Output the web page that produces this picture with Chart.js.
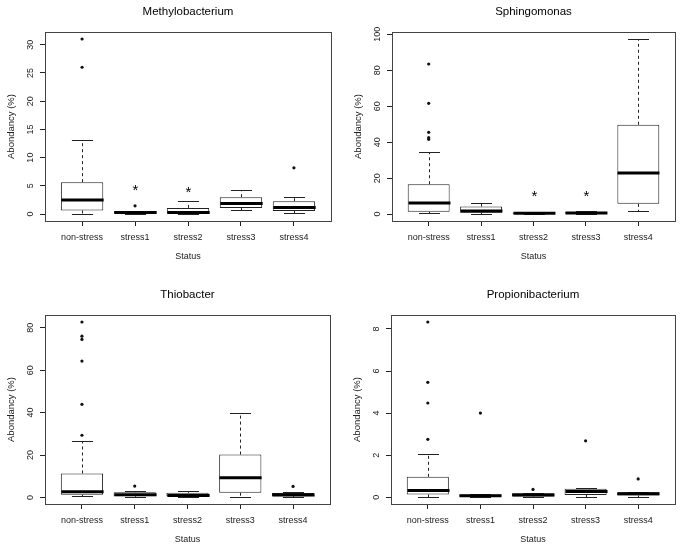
<!DOCTYPE html>
<html>
<head>
<meta charset="utf-8">
<script src="https://cdn.jsdelivr.net/npm/chart.js@4.4.1/dist/chart.umd.min.js"></script>
<style>
  html, body { margin: 0; padding: 0; background: #fff; }
  #wrap { position: relative; width: 683px; height: 549px; }
  canvas { position: absolute; }
</style>
</head>
<body>
<div id="wrap">
  <canvas id="c1" width="342" height="275" style="left:0;top:0"></canvas>
  <canvas id="c2" width="341" height="275" style="left:342px;top:0"></canvas>
  <canvas id="c3" width="342" height="266" style="left:0;top:283px"></canvas>
  <canvas id="c4" width="341" height="266" style="left:342px;top:283px"></canvas>
</div>
<script>
const categories = ['non-stress', 'stress1', 'stress2', 'stress3', 'stress4'];

// Methylobacterium
const methyloLow = [0.1, 0.02, 0.05, 0.7, 0.17];
const methyloQ1 = [0.64, 0.1, 0.1, 1.1, 0.53];
const methyloMedian = [2.52, 0.3, 0.28, 1.87, 1.17];
const methyloQ3 = [5.65, 0.5, 1.1, 3.0, 2.29];
const methyloHigh = [13.05, 0.6, 2.35, 4.23, 3.0];
const methyloOutliers = [[31.0, 26.0], [1.46], [], [], [8.2]];
const methyloStars = [null, 4.8, 4.6, null, null];
const methyloTicks = [0, 5, 10, 15, 20, 25, 30];

// Sphingomonas
const sphingoLow = [0.55, 0.3, 0.05, 0.1, 1.85];
const sphingoQ1 = [1.3, 0.74, 0.2, 0.3, 5.7];
const sphingoMedian = [6.1, 1.66, 0.5, 0.6, 22.9];
const sphingoQ3 = [16.6, 4.25, 0.9, 1.0, 49.7];
const sphingoHigh = [34.4, 6.1, 1.2, 1.6, 97.4];
const sphingoOutliers = [[83.5, 61.6, 45.5, 42.5, 41.6], [], [], [], []];
const sphingoStars = [null, null, 12.2, 12.2, null];
const sphingoTicks = [0, 20, 40, 60, 80, 100];

// Thiobacter
const thioLow = [0.5, 0.3, 0.2, 0.3, 0.2];
const thioQ1 = [1.26, 0.6, 0.5, 2.2, 0.5];
const thioMedian = [2.7, 1.26, 0.95, 9.3, 1.1];
const thioQ3 = [11.3, 2.4, 2.2, 20.2, 2.05];
const thioHigh = [26.6, 2.8, 3.1, 39.8, 2.4];
const thioOutliers = [[82.7, 76.0, 74.5, 64.3, 43.9, 29.3], [5.35], [], [], [5.2]];
const thioStars = [null, null, null, null, null];
const thioTicks = [0, 20, 40, 60, 80];

// Propionibacterium
const propioLow = [0.03, 0.01, 0.01, 0.03, 0.03];
const propioQ1 = [0.13, 0.03, 0.03, 0.1, 0.08];
const propioMedian = [0.32, 0.07, 0.1, 0.27, 0.17];
const propioQ3 = [0.97, 0.13, 0.19, 0.4, 0.24];
const propioHigh = [2.06, 0.15, 0.21, 0.46, 0.25];
const propioOutliers = [[8.33, 5.46, 4.48, 2.75], [4.0], [0.37], [2.68], [0.87]];
const propioStars = [null, null, null, null, null];
const propioTicks = [0, 2, 4, 6, 8];

Chart.defaults.font.family = '"Liberation Sans", Arial, Helvetica, sans-serif';
Chart.defaults.color = '#222';

const ink = '#222';

// draws medians, whiskers, staples, stars, frame, rotated y labels and the title
const boxplotPlugin = (s) => ({
  id: 'boxplot',
  afterDatasetsDraw(chart) {
    const { ctx, chartArea: a, scales: { x, y } } = chart;
    const half = x.getPixelForValue(1.4) - x.getPixelForValue(1);
    const line = (x1, y1, x2, y2) => {
      ctx.beginPath(); ctx.moveTo(x1, y1); ctx.lineTo(x2, y2); ctx.stroke();
    };
    ctx.save();
    ctx.strokeStyle = ink;
    for (let i = 0; i < categories.length; i++) {
      const cx = Math.round(x.getPixelForValue(i + 1)) + 0.5;
      const yLo = Math.round(y.getPixelForValue(s.low[i])) + 0.5;
      const yQ1 = y.getPixelForValue(s.q1[i]);
      const yMed = y.getPixelForValue(s.median[i]);
      const yQ3 = y.getPixelForValue(s.q3[i]);
      const yHi = Math.round(y.getPixelForValue(s.high[i])) + 0.5;
      ctx.lineWidth = 1;
      ctx.setLineDash([3, 3]);
      if (yHi < yQ3) line(cx, yQ3, cx, yHi);
      if (yLo > yQ1) line(cx, yQ1, cx, yLo);
      ctx.setLineDash([]);
      line(cx - half / 2, yHi, cx + half / 2, yHi);
      line(cx - half / 2, yLo, cx + half / 2, yLo);
      ctx.lineWidth = 3;
      ctx.strokeStyle = '#000';
      line(cx - half, yMed, cx + half, yMed);
      ctx.strokeStyle = ink;
      if (s.stars[i] != null) {
        ctx.fillStyle = '#000';
        ctx.font = '15px "Liberation Sans", Arial, sans-serif';
        ctx.textAlign = 'center';
        ctx.textBaseline = 'alphabetic';
        ctx.fillText('*', cx, y.getPixelForValue(s.stars[i]) + 8.5);
      }
    }
    // frame
    ctx.lineWidth = 1;
    ctx.strokeStyle = '#444';
    const l = Math.round(a.left) + 0.5, t = Math.round(a.top) + 0.5;
    const r = Math.round(a.right) + 0.5, b = Math.round(a.bottom) + 0.5;
    ctx.strokeRect(l, t, r - l, b - t);
    // y tick labels, parallel to the axis
    ctx.fillStyle = ink;
    ctx.font = '9px "Liberation Sans", Arial, sans-serif';
    ctx.textAlign = 'center';
    ctx.textBaseline = 'middle';
    y.ticks.forEach(tk => {
      ctx.save();
      ctx.translate(a.left - 14.3, y.getPixelForValue(tk.value));
      ctx.rotate(-Math.PI / 2);
      ctx.fillText(String(tk.value), 0, 0);
      ctx.restore();
    });
    // title
    ctx.fillStyle = '#000';
    ctx.font = '11.5px "Liberation Sans", Arial, sans-serif';
    ctx.textBaseline = 'alphabetic';
    ctx.fillText(s.title, (a.left + a.right) / 2, 15);
    ctx.restore();
  }
});

function makePanel(id, s) {
  const canvas = document.getElementById(id);
  const all = [...s.low, ...s.high, ...s.outliers.flat()];
  const lo = Math.min(...all), hi = Math.max(...all);
  const pad = (hi - lo) * 0.04;
  const outlierPoints = [];
  s.outliers.forEach((vals, i) => vals.forEach(v => outlierPoints.push({ x: i + 1, y: v })));

  new Chart(canvas, {
    type: 'bar',
    data: {
      datasets: [
        {
          type: 'bar',
          data: categories.map((c, i) => ({ x: i + 1, y: [s.q1[i], s.q3[i]] })),
          backgroundColor: '#fff',
          borderColor: ink,
          borderWidth: 1,
          borderSkipped: false,
          barPercentage: 0.8,
          categoryPercentage: 1,
          order: 2
        },
        {
          type: 'scatter',
          data: outlierPoints,
          pointRadius: 1.6,
          pointBackgroundColor: '#111',
          pointBorderWidth: 0,
          order: 1
        }
      ]
    },
    options: {
      responsive: false,
      animation: false,
      layout: { padding: { left: 0, top: 32, right: canvas.width - s.right, bottom: canvas.height - 263 } },
      plugins: { legend: { display: false }, tooltip: { enabled: false } },
      scales: {
        x: {
          type: 'linear',
          min: 0.3,
          max: 5.7,
          offset: false,
          afterBuildTicks: sc => { sc.ticks = categories.map((c, i) => ({ value: i + 1 })); },
          afterFit: sc => { sc.height = 42; },
          ticks: {
            callback: v => categories[Math.round(v) - 1],
            font: { size: 9 },
            padding: 6.3,
            maxRotation: 0,
            autoSkip: false
          },
          grid: { offset: false, drawOnChartArea: false, tickLength: 5, color: ink },
          border: { display: false },
          title: { display: true, text: 'Status', font: { size: 9 }, padding: { top: 0, bottom: 1 } }
        },
        y: {
          min: lo - pad,
          max: hi + pad,
          afterBuildTicks: sc => { sc.ticks = s.yTicks.map(v => ({ value: v })); },
          afterFit: sc => { sc.width = s.left; },
          ticks: { display: false },
          grid: { drawOnChartArea: false, tickLength: 5, color: ink },
          border: { display: false },
          title: { display: true, text: 'Abondancy (%)', font: { size: 9.5 }, padding: { top: s.left - 39.5, bottom: 0 } }
        }
      }
    },
    plugins: [boxplotPlugin(s)]
  });
}

makePanel('c1', {
  title: 'Methylobacterium', left: 45, right: 331,
  low: methyloLow, q1: methyloQ1, median: methyloMedian, q3: methyloQ3, high: methyloHigh,
  outliers: methyloOutliers, stars: methyloStars, yTicks: methyloTicks
});
makePanel('c2', {
  title: 'Sphingomonas', left: 50, right: 333,
  low: sphingoLow, q1: sphingoQ1, median: sphingoMedian, q3: sphingoQ3, high: sphingoHigh,
  outliers: sphingoOutliers, stars: sphingoStars, yTicks: sphingoTicks
});
makePanel('c3', {
  title: 'Thiobacter', left: 45, right: 330,
  low: thioLow, q1: thioQ1, median: thioMedian, q3: thioQ3, high: thioHigh,
  outliers: thioOutliers, stars: thioStars, yTicks: thioTicks
});
makePanel('c4', {
  title: 'Propionibacterium', left: 49, right: 333,
  low: propioLow, q1: propioQ1, median: propioMedian, q3: propioQ3, high: propioHigh,
  outliers: propioOutliers, stars: propioStars, yTicks: propioTicks
});
</script>
</body>
</html>
